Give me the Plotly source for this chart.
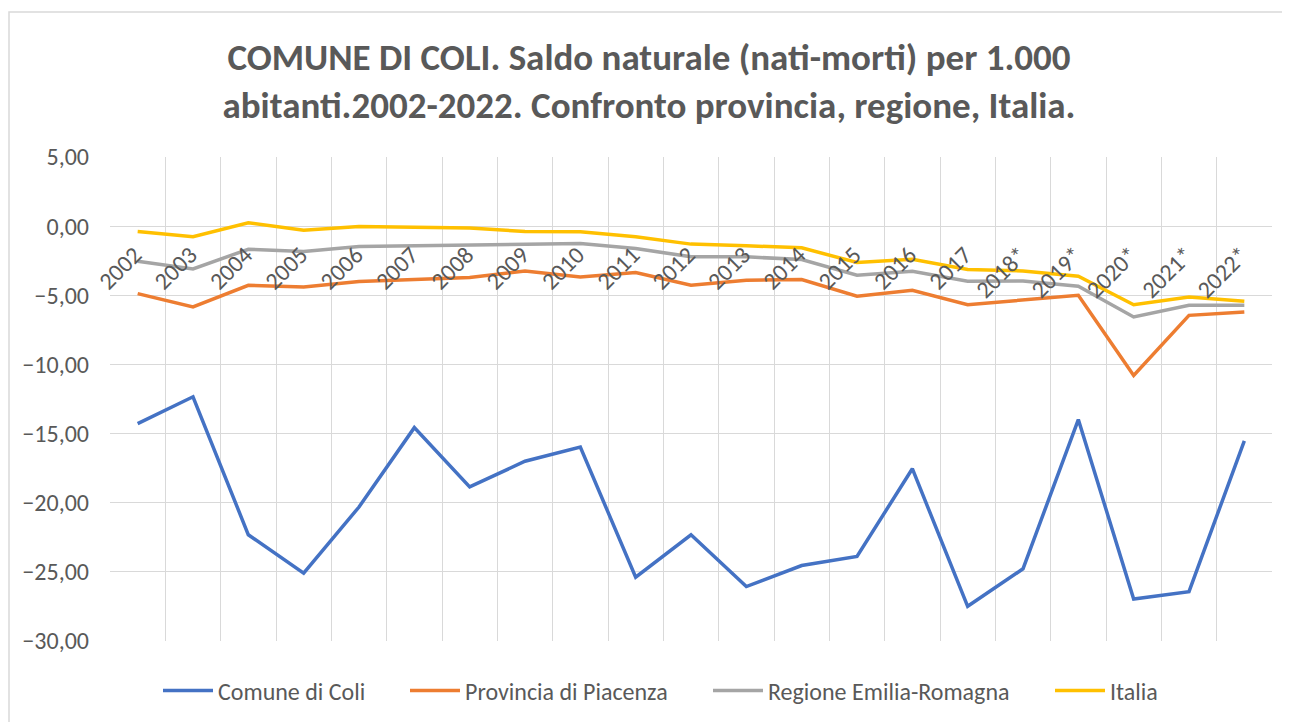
import plotly.graph_objects as go

anni = ["2002", "2003", "2004", "2005", "2006", "2007", "2008", "2009", "2010", "2011",
        "2012", "2013", "2014", "2015", "2016", "2017", "2018*", "2019*", "2020*", "2021*", "2022*"]

comune_coli = [-14.28, -12.34, -22.32, -25.10, -20.31, -14.57, -18.86, -17.00, -15.97, -25.39,
               -22.32, -26.06, -24.54, -23.89, -17.54, -27.49, -24.78, -13.99, -26.96, -26.43, -15.53]
provincia_piacenza = [-4.88, -5.84, -4.28, -4.40, -4.00, -3.83, -3.71, -3.25, -3.67, -3.36,
                      -4.27, -3.91, -3.86, -5.07, -4.64, -5.68, -5.35, -5.00, -10.80, -6.45, -6.21]
regione_er = [-2.54, -3.09, -1.67, -1.84, -1.48, -1.41, -1.34, -1.32, -1.26, -1.62,
              -2.22, -2.22, -2.42, -3.55, -3.26, -3.99, -3.96, -4.35, -6.57, -5.72, -5.72]
italia = [-0.38, -0.77, 0.24, -0.29, -0.02, -0.10, -0.14, -0.38, -0.41, -0.77,
          -1.30, -1.42, -1.57, -2.63, -2.39, -3.14, -3.24, -3.62, -5.68, -5.12, -5.43]

serie = [
    ("Comune di Coli", comune_coli, "#4472C4"),
    ("Provincia di Piacenza", provincia_piacenza, "#ED7D31"),
    ("Regione Emilia-Romagna", regione_er, "#A5A5A5"),
    ("Italia", italia, "#FFC000"),
]

FONT = "Calibri, Carlito, Open Sans, sans-serif"
GRAY_TXT = "#595959"
GRID = "#D9D9D9"
Y_MIN, Y_MAX = -30, 5

# page body has an 8px margin: figure coordinates are screen coordinates minus 8
W, H = 1282, 714
ML, MR, MT, MB = 102, 18, 149, 81
PW = W - ML - MR
PH = H - MT - MB

legend_ids = ["legend", "legend2", "legend3", "legend4"]
legend_x_px = [158, 405, 708, 1050]   # screen px of each legend entry origin

fig = go.Figure()
for (nome, vals, col), lid in zip(serie, legend_ids):
    fig.add_trace(go.Scatter(
        x=list(range(len(anni))), y=vals, name=nome, mode="lines",
        line=dict(color=col, width=3.5), legend=lid,
    ))

# invisible helper trace so the label axis is active
fig.add_trace(go.Scatter(x=list(range(len(anni))), y=italia, xaxis="x2", mode="lines",
                         line=dict(width=0), opacity=0, showlegend=False, hoverinfo="skip"))

legend_layout = {}
for lid, px in zip(legend_ids, legend_x_px):
    legend_layout[lid] = dict(
        orientation="h", x=(px - 8 - ML) / PW, xanchor="left",
        y=-(691 - 641) / PH, yanchor="middle",
        font=dict(family=FONT, size=24, color=GRAY_TXT),
        itemwidth=50, bgcolor="rgba(0,0,0,0)", borderwidth=0,
    )

fig.update_layout(
    width=W, height=H,
    margin=dict(l=ML, r=MR, t=MT, b=MB, autoexpand=False),
    paper_bgcolor="white", plot_bgcolor="white",
    separators=",.",
    font=dict(family=FONT, color=GRAY_TXT, size=24),
    title=dict(
        text="<b>COMUNE DI COLI. Saldo naturale (nati-morti) per 1.000<br>abitanti.2002-2022. Confronto provincia, regione, Italia.</b>",
        x=0.5, xanchor="center", xref="container",
        y=1 - 62 / H, yanchor="middle", yref="container",
        font=dict(family=FONT, size=37, color=GRAY_TXT),
    ),
    xaxis=dict(
        range=[-0.5, len(anni) - 0.5],
        tickmode="array",
        tickvals=[i + 0.5 for i in range(-1, len(anni))],
        showticklabels=False, ticks="",
        showgrid=True, gridcolor=GRID, gridwidth=1.3,
        zeroline=False, showline=False, automargin=False,
    ),
    xaxis2=dict(
        overlaying="x", anchor="free",
        position=(0 - Y_MIN) / (Y_MAX - Y_MIN),
        range=[-0.5, len(anni) - 0.5],
        tickmode="array", tickvals=list(range(len(anni))), ticktext=anni,
        tickangle=-45, showgrid=False, zeroline=False, showline=False, ticks="",
        ticklabelstandoff=9, ticklabelshift=-3, automargin=False,
        tickfont=dict(family=FONT, size=24, color=GRAY_TXT),
    ),
    yaxis=dict(
        range=[Y_MIN, Y_MAX], dtick=5, tick0=0, tickformat=".2f",
        showgrid=True, gridcolor=GRID, gridwidth=1.3,
        zeroline=True, zerolinecolor=GRID, zerolinewidth=1.3,
        showline=False, ticks="", ticklabelstandoff=20, automargin=False,
        tickfont=dict(family=FONT, size=24, color=GRAY_TXT),
    ),
    shapes=[dict(
        type="rect", xref="paper", yref="paper",
        x0=(1 - ML) / PW, x1=1.2, y0=-0.3, y1=(H - MB - 4) / PH,
        line=dict(color=GRID, width=1.5), fillcolor="rgba(0,0,0,0)", layer="below",
    )],
    **legend_layout,
)

fig.write_html("out.html")
